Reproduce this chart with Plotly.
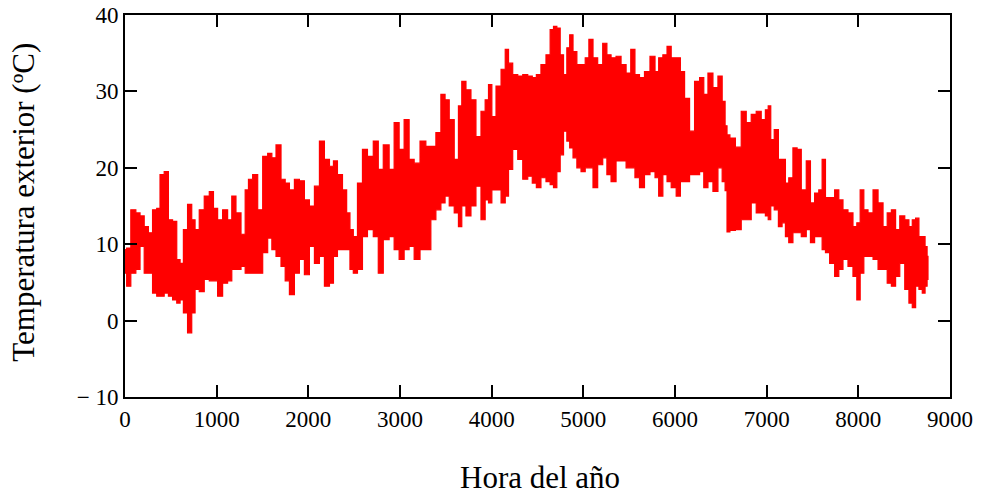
import plotly.graph_objects as go

# Hour of the year at which the envelope values were read
hora = [0, 36, 91, 146, 182, 237, 273, 328, 364, 400, 455, 492, 546, 583, 619, 655, 710, 746, 783, 837,
        892, 947, 983, 1038, 1092, 1147, 1183, 1238, 1293, 1329, 1365, 1420, 1475, 1529, 1584, 1620, 1675,
        1729, 1766, 1821, 1875, 1930, 1984, 2039, 2094, 2148, 2203, 2258, 2290, 2345, 2400, 2436, 2472,
        2509, 2563, 2618, 2672, 2745, 2781, 2854, 2909, 2963, 3018, 3072, 3127, 3182, 3255, 3309, 3364,
        3419, 3473, 3510, 3564, 3619, 3656, 3692, 3747, 3801, 3856, 3911, 3947, 3984, 4020, 4075, 4130,
        4166, 4202, 4257, 4312, 4366, 4421, 4465, 4510, 4565, 4620, 4656, 4693, 4729, 4766, 4802, 4838,
        4864, 4911, 4948, 5002, 5039, 5082, 5129, 5184, 5239, 5275, 5330, 5384, 5439, 5494, 5541, 5585,
        5640, 5694, 5760, 5804, 5840, 5895, 5931, 5986, 6040, 6077, 6132, 6186, 6241, 6296, 6332, 6387,
        6441, 6496, 6533, 6560, 6575, 6623, 6695, 6750, 6804, 6859, 6913, 6968, 7004, 7030, 7059, 7106,
        7150, 7186, 7223, 7259, 7314, 7350, 7405, 7459, 7496, 7550, 7587, 7623, 7660, 7714, 7769, 7805,
        7860, 7914, 7969, 7998, 8042, 8078, 8133, 8188, 8242, 8297, 8333, 8388, 8425, 8479, 8534, 8570,
        8607, 8643, 8679, 8716, 8740, 8760]

# Upper envelope (daily maxima) of the outdoor temperature, ºC
temp_max = [9.3, 9.5, 14.5, 14.1, 13.7, 12.3, 11.5, 14.5, 14.7, 19.1, 19.5, 13.2, 13.0, 8.0, 7.5, 11.9, 15.2,
            13.2, 11.9, 14.5, 16.3, 16.9, 14.7, 13.2, 14.5, 13.2, 16.3, 14.1, 11.3, 17.1, 18.5, 19.1, 14.5,
            21.5, 21.9, 21.3, 23.0, 18.5, 18.0, 17.1, 18.5, 18.3, 15.8, 15.0, 17.6, 23.5, 21.1, 20.2, 20.9,
            19.1, 17.1, 14.1, 11.9, 11.0, 18.0, 22.4, 21.5, 23.5, 19.8, 23.0, 19.8, 25.9, 22.4, 26.3, 21.1,
            20.6, 23.5, 22.8, 22.8, 24.6, 29.6, 28.9, 26.3, 21.1, 28.1, 31.3, 30.2, 28.9, 24.1, 27.4, 28.9,
            30.9, 26.7, 30.7, 32.9, 35.5, 33.7, 32.2, 32.0, 32.2, 32.0, 31.8, 32.2, 33.5, 34.8, 38.1, 38.5,
            38.3, 34.8, 32.2, 35.7, 37.4, 35.2, 33.5, 33.5, 34.4, 36.8, 34.4, 33.5, 36.3, 34.8, 34.4, 34.6,
            33.5, 32.4, 35.5, 32.2, 31.8, 32.6, 34.6, 32.6, 34.4, 34.8, 35.9, 34.4, 34.4, 32.6, 29.1, 24.8,
            31.3, 31.8, 29.6, 32.4, 30.5, 32.0, 28.7, 25.5, 24.3, 23.9, 22.7, 27.4, 25.9, 27.0, 27.4, 26.3,
            27.6, 28.1, 23.7, 25.0, 21.1, 21.1, 18.0, 18.7, 22.6, 22.4, 17.1, 20.9, 15.4, 16.7, 17.1, 21.1,
            16.1, 16.1, 17.1, 15.8, 14.5, 14.1, 12.3, 12.8, 17.1, 14.5, 14.1, 17.1, 15.4, 12.3, 14.1, 14.5,
            11.9, 13.7, 13.2, 12.3, 13.2, 13.4, 11.0, 11.0, 9.7, 8.4]

# Lower envelope (daily minima) of the outdoor temperature, ºC
temp_min = [6.2, 4.5, 6.2, 6.7, 9.7, 6.2, 6.2, 3.6, 3.2, 3.2, 3.6, 3.2, 2.7, 2.3, 2.7, 1.0, -1.6, 1.0, 4.1, 3.8,
            5.4, 5.2, 5.2, 3.2, 4.9, 5.2, 6.7, 6.7, 7.1, 6.2, 6.2, 6.2, 6.2, 8.9, 10.8, 9.3, 8.4, 7.1, 5.2,
            3.4, 6.2, 8.0, 6.0, 9.7, 7.5, 8.4, 4.5, 4.9, 8.4, 9.3, 9.3, 9.3, 6.7, 6.2, 6.7, 11.0, 11.9, 11.0,
            6.2, 10.6, 11.0, 9.3, 8.0, 9.3, 9.7, 8.0, 9.3, 9.3, 13.2, 14.5, 15.4, 16.3, 15.0, 14.1, 12.3,
            15.0, 13.7, 15.0, 17.6, 13.2, 15.8, 15.4, 17.1, 17.1, 15.4, 16.3, 19.8, 22.4, 21.1, 18.5, 18.9,
            18.0, 17.4, 18.7, 18.2, 17.8, 17.4, 19.5, 21.7, 24.8, 23.5, 22.6, 21.3, 20.0, 19.5, 20.0, 20.0,
            17.4, 20.4, 21.3, 19.1, 18.2, 20.9, 20.9, 20.0, 20.0, 18.7, 17.4, 19.1, 19.5, 18.7, 16.3, 19.1,
            18.2, 17.4, 16.3, 18.2, 18.2, 19.1, 19.1, 19.5, 17.4, 18.2, 16.9, 20.0, 18.2, 17.0, 11.6, 11.8,
            11.9, 13.2, 13.2, 15.4, 14.1, 14.1, 13.7, 13.2, 15.0, 14.5, 12.3, 12.8, 11.0, 10.2, 11.5, 11.5,
            11.0, 11.9, 10.2, 11.0, 11.0, 9.3, 8.9, 7.5, 5.8, 6.7, 8.0, 7.1, 5.8, 2.7, 6.2, 8.4, 8.4, 8.0,
            6.7, 6.7, 4.9, 4.5, 5.8, 7.5, 4.1, 2.3, 1.7, 4.5, 4.1, 3.6, 4.5, 5.4]

x_ticks = [0, 1000, 2000, 3000, 4000, 5000, 6000, 7000, 8000, 9000]
y_ticks = [-10, 0, 10, 20, 30, 40]
y_ticktext = ["\u2212 10", "0", "10", "20", "30", "40"]

fig = go.Figure()
fig.add_trace(go.Scatter(
    x=hora + hora[::-1],
    y=temp_max + temp_min[::-1],
    mode="lines",
    fill="toself",
    fillcolor="#ff0000",
    line=dict(color="#ff0000", width=1.2, shape="hvh"),
    hoverinfo="skip",
    showlegend=False,
))

font_family = "Liberation Serif"
axis_common = dict(
    showline=True, linecolor="black", linewidth=2, mirror="ticks",
    ticks="inside", ticklen=12, tickwidth=1.5, tickcolor="black",
    showgrid=False, zeroline=False, automargin=False,
    tickfont=dict(family=font_family, size=23, color="black"),
)

fig.update_layout(
    width=981, height=496,
    margin=dict(l=125, r=31, t=15, b=99),
    paper_bgcolor="white", plot_bgcolor="white",
    xaxis=dict(range=[0, 9000], tickvals=x_ticks, **axis_common),
    yaxis=dict(range=[-10, 40], tickvals=y_ticks, ticktext=y_ticktext, **axis_common),
    annotations=[
        dict(text="Temperatura exterior (ºC)", xref="paper", yref="paper",
             x=-0.123, y=0.51, xanchor="center", yanchor="middle", textangle=-90,
             showarrow=False, font=dict(family=font_family, size=31, color="black")),
        dict(text="Hora del año", xref="paper", yref="paper",
             x=0.503, y=-0.212, xanchor="center", yanchor="middle",
             showarrow=False, font=dict(family=font_family, size=31, color="black")),
    ],
)

fig.write_html("out.html")
